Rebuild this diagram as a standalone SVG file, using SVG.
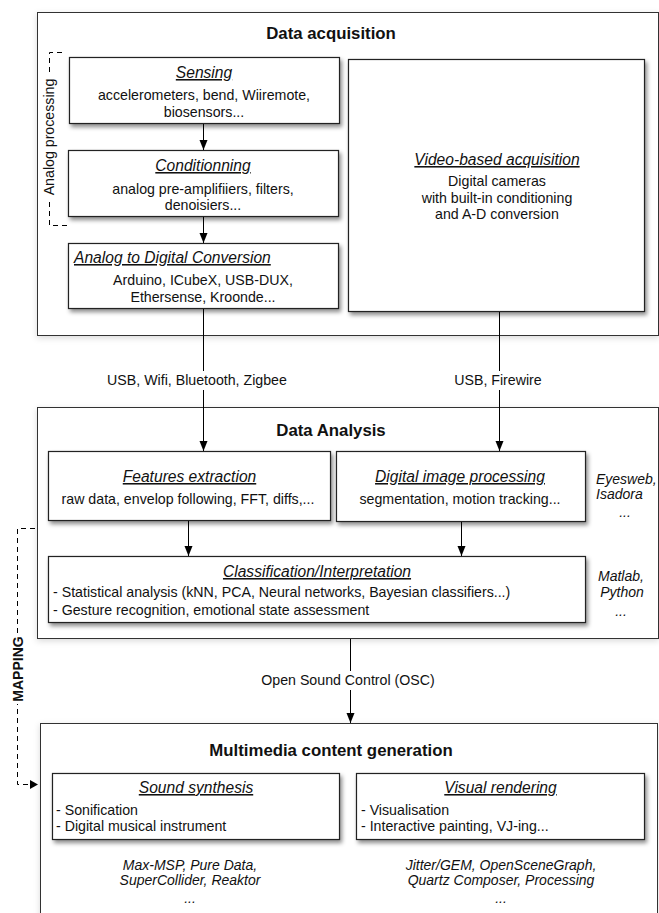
<svg xmlns="http://www.w3.org/2000/svg" width="659" height="913" viewBox="0 0 659 913">
<defs>
<filter id="sh" x="-10%" y="-10%" width="130%" height="140%">
<feDropShadow dx="2" dy="3" stdDeviation="2" flood-color="#000" flood-opacity="0.45"/>
</filter>
<filter id="sh2" x="-10%" y="-10%" width="130%" height="130%">
<feDropShadow dx="0" dy="2" stdDeviation="3" flood-color="#000" flood-opacity="0.15"/>
</filter>
<marker id="arr" markerUnits="userSpaceOnUse" markerWidth="10" markerHeight="10" viewBox="0 0 10 10" refX="10" refY="5" orient="auto">
<path d="M0,1 L10,5 L0,9 Z" fill="#000"/>
</marker>
</defs>
<style>
text{font-family:"Liberation Sans",Arial,sans-serif;fill:#111;}
.t{font-size:16.8px;font-weight:bold;text-anchor:middle;}
.h{font-size:15.6px;font-style:italic;text-decoration:underline;text-anchor:middle;}
.b{font-size:14.2px;text-anchor:middle;}
.l{font-size:14.2px;}
.i{font-size:14px;font-style:italic;}
.ic{font-size:14px;font-style:italic;text-anchor:middle;}
.outer{fill:#fff;stroke:#333;stroke-width:1;filter:url(#sh2);}
.box{fill:#fff;stroke:#222;stroke-width:1.2;filter:url(#sh);}
.c{stroke:#000;stroke-width:1;fill:none;}
.d{stroke:#000;stroke-width:1;fill:none;stroke-dasharray:5,4;}
</style>

<g id="data-acquisition">
<rect class="outer" x="37.5" y="12.5" width="621" height="323"/>
<text class="t" x="331" y="39">Data acquisition</text>
</g>
<g id="analog-processing">
<path class="d" d="M62,52.5 H49.5 V225.5 H68"/>
<rect x="42" y="75" width="14" height="124" fill="#fff"/>
<text class="b" transform="translate(54,137) rotate(-90)">Analog processing</text>
</g>
<g id="sensing">
<rect class="box" x="69.5" y="57.5" width="270" height="66"/>
<text class="h" x="204" y="78">Sensing</text>
<text class="b" x="204" y="100">accelerometers, bend, Wiiremote,</text>
<text class="b" x="204" y="117">biosensors...</text>
</g>
<g id="conditionning">
<rect class="box" x="68.5" y="150.5" width="270" height="66"/>
<text class="h" x="203" y="171">Conditionning</text>
<text class="b" x="203" y="194">analog pre-amplifiiers, filters,</text>
<text class="b" x="203" y="210">denoisiers...</text>
</g>
<g id="adc">
<rect class="box" x="68.5" y="243.5" width="270" height="65"/>
<text class="h" x="74" y="263" style="text-anchor:start">Analog to Digital Conversion</text>
<text class="b" x="203" y="285">Arduino, ICubeX, USB-DUX,</text>
<text class="b" x="203" y="302">Ethersense, Kroonde...</text>
</g>
<g id="video">
<rect class="box" x="348.5" y="59.5" width="296" height="252"/>
<text class="h" x="497" y="165">Video-based acquisition</text>
<text class="b" x="497" y="186">Digital cameras</text>
<text class="b" x="497" y="203">with built-in conditioning</text>
<text class="b" x="497" y="219">and A-D conversion</text>
</g>

<g id="data-analysis">
<rect class="outer" x="37.5" y="407.5" width="621" height="231"/>
<text class="t" x="331" y="436">Data Analysis</text>
<text class="i" x="596" y="484">Eyesweb,</text>
<text class="i" x="596" y="499">Isadora</text>
<text class="ic" x="625" y="517">...</text>
<text class="ic" x="621" y="581">Matlab,</text>
<text class="ic" x="622" y="597">Python</text>
<text class="ic" x="621" y="616">...</text>
</g>
<g id="features">
<rect class="box" x="48.5" y="451.5" width="282" height="69"/>
<text class="h" x="189.5" y="482">Features extraction</text>
<text class="b" x="188" y="504">raw data, envelop following, FFT, diffs,...</text>
</g>
<g id="dip">
<rect class="box" x="336.5" y="451.5" width="249" height="70"/>
<text class="h" x="460" y="482">Digital image processing</text>
<text class="b" x="460" y="504">segmentation, motion tracking...</text>
</g>
<g id="classification">
<rect class="box" x="48.5" y="556.5" width="537" height="66"/>
<text class="h" x="317" y="577">Classification/Interpretation</text>
<text class="l" x="53" y="597">- Statistical analysis (kNN, PCA, Neural networks, Bayesian classifiers...)</text>
<text class="l" x="53" y="615">- Gesture recognition, emotional state assessment</text>
</g>

<g id="multimedia">
<rect class="outer" x="40.5" y="723.5" width="617" height="200"/>
<text class="t" x="331" y="756">Multimedia content generation</text>
<text class="ic" x="190" y="870">Max-MSP, Pure Data,</text>
<text class="ic" x="190" y="885">SuperCollider, Reaktor</text>
<text class="ic" x="190" y="903">...</text>
<text class="ic" x="501" y="870">Jitter/GEM, OpenSceneGraph,</text>
<text class="ic" x="501" y="885">Quartz Composer, Processing</text>
<text class="ic" x="501" y="903">...</text>
</g>
<g id="sound">
<rect class="box" x="52.5" y="773.5" width="287" height="66"/>
<text class="h" x="196" y="793">Sound synthesis</text>
<text class="l" x="56" y="815">- Sonification</text>
<text class="l" x="56" y="831">- Digital musical instrument</text>
</g>
<g id="visual">
<rect class="box" x="356.5" y="773.5" width="288" height="66"/>
<text class="h" x="500.5" y="793">Visual rendering</text>
<text class="l" x="361" y="815">- Visualisation</text>
<text class="l" x="361" y="831">- Interactive painting, VJ-ing...</text>
</g>

<g id="mapping">
<path class="d" d="M35,528.5 H17.5 V784.5 H30"/>
<path d="M30,780 L38,784.5 L30,789 Z" fill="#000"/>
<rect x="10" y="634" width="16" height="70" fill="#fff"/>
<text transform="translate(23,669) rotate(-90)" style="font-size:14px;font-weight:bold;text-anchor:middle">MAPPING</text>
</g>

<g id="connectors">
<line class="c" x1="203.5" y1="124" x2="203.5" y2="150" marker-end="url(#arr)"/>
<line class="c" x1="203.5" y1="217" x2="203.5" y2="243" marker-end="url(#arr)"/>
<line class="c" x1="203.5" y1="309" x2="203.5" y2="371"/>
<line class="c" x1="203.5" y1="390" x2="203.5" y2="451" marker-end="url(#arr)"/>
<text class="b" x="197" y="385">USB, Wifi, Bluetooth, Zigbee</text>
<line class="c" x1="499.5" y1="312" x2="499.5" y2="371"/>
<line class="c" x1="499.5" y1="390" x2="499.5" y2="451" marker-end="url(#arr)"/>
<text class="b" x="498" y="385">USB, Firewire</text>
<line class="c" x1="188.5" y1="521" x2="188.5" y2="556" marker-end="url(#arr)"/>
<line class="c" x1="461.5" y1="522" x2="461.5" y2="556" marker-end="url(#arr)"/>
<line class="c" x1="350.5" y1="639" x2="350.5" y2="671"/>
<line class="c" x1="350.5" y1="690" x2="350.5" y2="723" marker-end="url(#arr)"/>
<text class="b" x="348" y="685">Open Sound Control (OSC)</text>
</g>
</svg>
